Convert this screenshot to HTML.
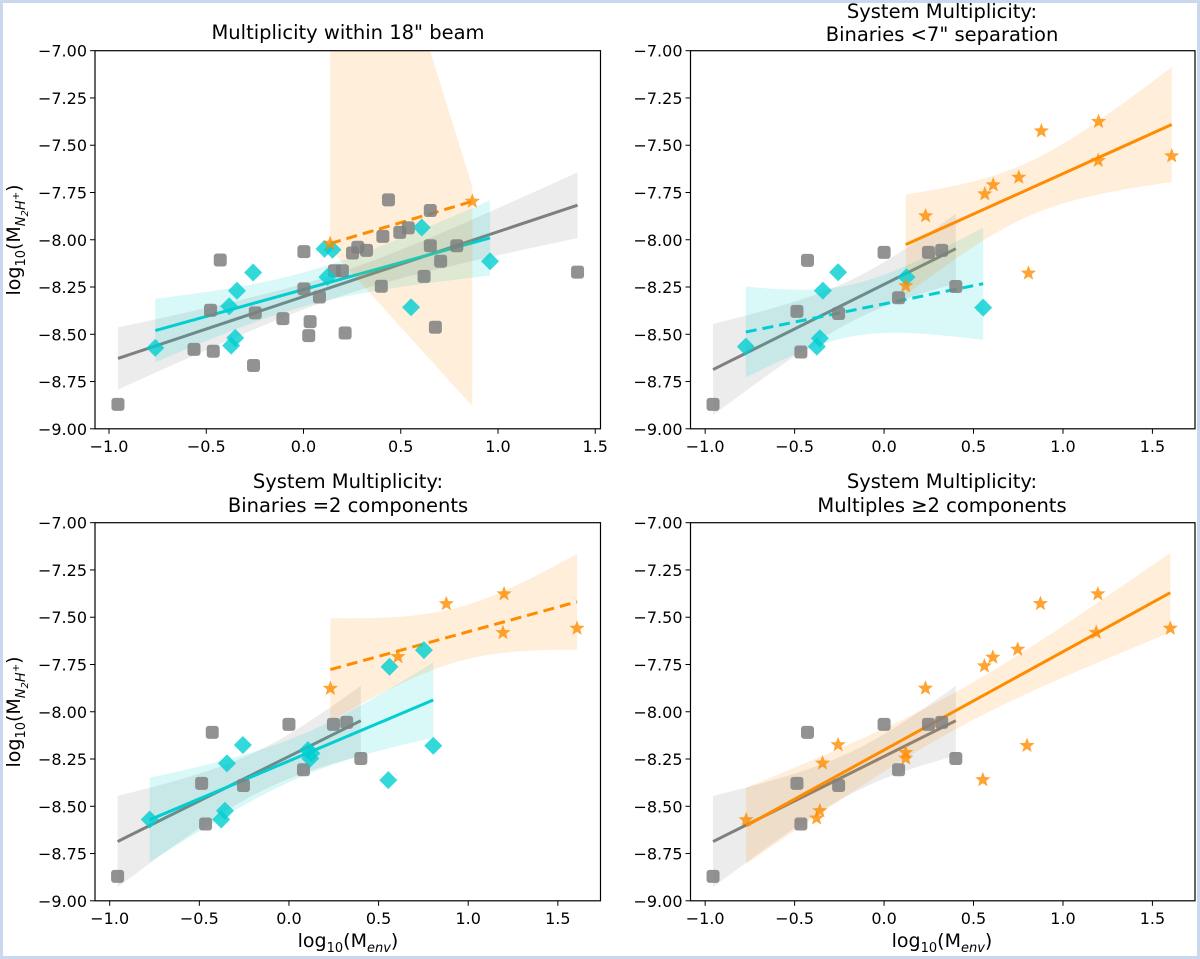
<!DOCTYPE html>
<html><head><meta charset="utf-8">
<style>
html,body{margin:0;padding:0;background:#fff;}
svg{display:block;font-family:"DejaVu Sans","Liberation Sans",sans-serif;}
</style></head>
<body>
<svg id="fig" width="1200" height="959" viewBox="0 0 1200 959" xmlns="http://www.w3.org/2000/svg">
<rect x="1.5" y="1.5" width="1197" height="956" fill="#fff" stroke="#c9d8ec" stroke-width="3"/>
</svg>
<script>
// ---------- data ----------
const aGrayX=[-0.954,-0.563,-0.464,-0.428,-0.478,-0.257,-0.248,-0.106,0.002,0.002,0.027,0.034,0.082,0.159,0.2,0.214,0.252,0.279,0.324,0.4,0.408,0.437,0.495,0.539,0.62,0.652,0.652,0.678,0.705,0.788,1.409];
const aGrayY=[-8.871,-8.58,-8.59,-8.107,-8.373,-8.665,-8.387,-8.417,-8.063,-8.26,-8.507,-8.433,-8.303,-8.164,-8.164,-8.493,-8.07,-8.04,-8.056,-8.246,-7.982,-7.789,-7.961,-7.937,-8.194,-7.845,-8.032,-8.463,-8.114,-8.032,-8.171];
const aCyanX=[-0.762,-0.372,-0.351,-0.382,-0.342,-0.259,0.108,0.149,0.123,0.553,0.608,0.959];
const aCyanY=[-8.572,-8.56,-8.519,-8.352,-8.27,-8.173,-8.048,-8.053,-8.197,-8.357,-7.935,-8.114];
const aOrangeX=[0.137,0.868];
const aOrangeY=[-8.02,-7.797];
const aOrangeBandLo=[-8.05,-8.88];
const aOrangeBandHi=[-5.3,-7.72];
const grayX=[-0.956,-0.465,-0.487,-0.428,-0.254,0.0,0.081,0.248,0.322,0.401];
const grayY=[-8.871,-8.594,-8.379,-8.109,-8.39,-8.067,-8.307,-8.067,-8.056,-8.247];
const bCyanX=[-0.773,-0.376,-0.359,-0.342,-0.257,0.125,0.554];
const bCyanY=[-8.565,-8.565,-8.521,-8.269,-8.172,-8.198,-8.359];
const bStarX=[0.121,0.232,0.563,0.61,0.753,0.879,0.807,1.199,1.197,1.608];
const bStarY=[-8.244,-7.874,-7.758,-7.71,-7.67,-7.425,-8.177,-7.375,-7.581,-7.557];
const cCyanX=[-0.777,-0.378,-0.357,-0.346,-0.257,0.125,0.119,0.106,0.554,0.561,0.753,0.805];
const cCyanY=[-8.57,-8.57,-8.524,-8.273,-8.176,-8.22,-8.247,-8.203,-8.362,-7.762,-7.674,-8.18];
const cStarX=[0.231,0.608,0.878,1.2,1.194,1.607];
const cStarY=[-7.877,-7.709,-7.429,-7.377,-7.582,-7.559];
const dStarX=[-0.771,-0.377,-0.359,-0.344,-0.257,0.121,0.121,0.231,0.552,0.561,0.608,0.747,0.799,0.874,1.195,1.186,1.6];
const dStarY=[-8.572,-8.563,-8.524,-8.272,-8.175,-8.216,-8.246,-7.876,-8.36,-7.758,-7.712,-7.67,-8.179,-7.428,-7.377,-7.581,-7.559];
const xTicks=[-1.0,-0.5,0.0,0.5,1.0,1.5];
const xTickLabels=["\u22121.0","\u22120.5","0.0","0.5","1.0","1.5"];
const yTicks=[-7.0,-7.25,-7.5,-7.75,-8.0,-8.25,-8.5,-8.75,-9.0];
const yTickLabels=["\u22127.00","\u22127.25","\u22127.50","\u22127.75","\u22128.00","\u22128.25","\u22128.50","\u22128.75","\u22129.00"];

// ---------- drawing ----------
const NS="http://www.w3.org/2000/svg";
const svg=document.getElementById('fig');
const GRAY="#7f7f7f", CYAN="#00ced1", ORANGE="#ff8c00";
const TICKFS=16, TITLEFS=19.5, LABELFS=19;
function mk(tag,attrs,parent){const e=document.createElementNS(NS,tag);for(const k in attrs)e.setAttribute(k,attrs[k]);(parent||svg).appendChild(e);return e;}

function makeAxes(px0,px1,py0,py1,xmin,xmax,name){
  const g=mk('g',{});
  
  
  const clipId='clip-'+name;
  const cp=mk('clipPath',{id:clipId},g);mk('rect',{x:px0,y:py0,width:px1-px0,height:py1-py0},cp);
  const ax={g,px0,px1,py0,py1,
    sx:v=>px0+(v-xmin)/(xmax-xmin)*(px1-px0),
    sy:v=>py0+(-7-v)/2*(py1-py0)};
  ax.plot=mk('g',{'clip-path':'url(#'+clipId+')'},g);
  return ax;
}
function finishAxes(ax){
  const g=ax.g;
  const fr=mk('rect',{x:ax.px0,y:ax.py0,width:ax.px1-ax.px0,height:ax.py1-ax.py0,fill:'none',stroke:'#000','stroke-width':1.2},g);
  
  
  xTicks.forEach((t,i)=>{const x=ax.sx(t);
    mk('line',{x1:x,x2:x,y1:ax.py1,y2:ax.py1+5,stroke:'#000','stroke-width':1},g);
    const tx=mk('text',{x:x,y:ax.py1+23,'text-anchor':'middle','font-size':TICKFS,fill:'#000'},g);tx.textContent=xTickLabels[i];
    
    });
  yTicks.forEach((t,i)=>{const y=ax.sy(t);
    mk('line',{x1:ax.px0-5,x2:ax.px0,y1:y,y2:y,stroke:'#000','stroke-width':1},g);
    const tx=mk('text',{x:ax.px0-8,y:y+6,'text-anchor':'end','font-size':TICKFS,fill:'#000'},g);tx.textContent=yTickLabels[i];
    
    });
}
const tTab={1:12.7,2:4.3,3:3.18,4:2.78,5:2.57,6:2.45,7:2.36,8:2.31,9:2.26,10:2.23,12:2.18,15:2.13,20:2.09,30:2.04};
function tval(df){let best=2.0;for(const k in tTab){if(+k<=df)best=tTab[k];}return df>30?2.0:best;}
function fit(xs,ys){const n=xs.length;const mx=xs.reduce((a,b)=>a+b)/n,my=ys.reduce((a,b)=>a+b)/n;
  let sxx=0,sxy=0;for(let i=0;i<n;i++){sxx+=(xs[i]-mx)**2;sxy+=(xs[i]-mx)*(ys[i]-my);}
  const b=sxy/sxx,a=my-b*mx;let sse=0;for(let i=0;i<n;i++)sse+=(ys[i]-a-b*xs[i])**2;
  const s=n>2?Math.sqrt(sse/(n-2)):0;return {a,b,mx,sxx,s,n,xmin:Math.min(...xs),xmax:Math.max(...xs)};}
function drawFit(ax,xs,ys,color,dashed,name,bandLo,bandHi){
  const f=fit(xs,ys);
  let pts=[];
  if(bandLo){pts=[[f.xmin,bandHi[0]],[f.xmax,bandHi[1]],[f.xmax,bandLo[1]],[f.xmin,bandLo[0]]];}
  else{const t=tval(f.n-2)*0.85;const up=[],lo=[];
    for(let k=0;k<=40;k++){const x=f.xmin+(f.xmax-f.xmin)*k/40;const yh=f.a+f.b*x;
      const se=f.s*Math.sqrt(1/f.n+(x-f.mx)**2/f.sxx);up.push([x,yh+t*se]);lo.push([x,yh-t*se]);}
    pts=up.concat(lo.reverse());}
  const band=mk('polygon',{points:pts.map(p=>ax.sx(p[0])+','+ax.sy(p[1])).join(' '),fill:color,'fill-opacity':0.15,stroke:'none'},ax.plot);
  
  
  const ln=mk('line',{x1:ax.sx(f.xmin),y1:ax.sy(f.a+f.b*f.xmin),x2:ax.sx(f.xmax),y2:ax.sy(f.a+f.b*f.xmax),stroke:color,'stroke-width':3},ax.plot);
  if(dashed)ln.setAttribute('stroke-dasharray','11,6');
  
  
}
function drawPoints(ax,xs,ys,kind,name){
  for(let i=0;i<xs.length;i++){const x=ax.sx(xs[i]),y=ax.sy(ys[i]);let e;
    if(kind==='sq')e=mk('rect',{x:x-6.5,y:y-6.5,width:13,height:13,rx:3,fill:GRAY,'fill-opacity':0.85},ax.plot);
    else if(kind==='dia')e=mk('polygon',{points:`${x},${y-9} ${x+9},${y} ${x},${y+9} ${x-9},${y}`,fill:CYAN,'fill-opacity':0.8},ax.plot);
    else{let p=[];for(let k=0;k<10;k++){const r=k%2?3.4:8;const a=-Math.PI/2+k*Math.PI/5;p.push((x+r*Math.cos(a)).toFixed(2)+','+(y+r*Math.sin(a)).toFixed(2));}
      e=mk('polygon',{points:p.join(' '),fill:ORANGE,'fill-opacity':0.8},ax.plot);}
    
    }
}
function text(x,y,str,size,name,anchor){const t=mk('text',{x,y,'font-size':size,'text-anchor':anchor||'middle',fill:'#000'});t.textContent=str;
  
  return t;}
function ylabel(cx,cy){const t=mk('text',{x:0,y:0,'font-size':LABELFS,'text-anchor':'middle',transform:`translate(${cx},${cy}) rotate(-90)`,fill:'#000'});
  t.innerHTML='log<tspan font-size="13" dy="5">10</tspan><tspan dy="-5">(M</tspan><tspan font-size="13" dy="5" font-style="italic">N</tspan><tspan font-size="10" dy="3" font-style="italic">2</tspan><tspan font-size="13" dy="-3" font-style="italic">H</tspan><tspan font-size="10" dy="-6">+</tspan><tspan dy="1">)</tspan>';
  
  }
function xlabel(cx,cy){const t=mk('text',{x:cx,y:cy,'font-size':LABELFS,'text-anchor':'middle',fill:'#000'});
  t.innerHTML='log<tspan font-size="13" dy="5">10</tspan><tspan dy="-5">(M</tspan><tspan font-size="13" dy="5" font-style="italic">env</tspan><tspan dy="-5">)</tspan>';
  
  }

const A=makeAxes(95,600.5,50.7,428.8,-1.072,1.527,'panel-multiplicity-beam');
drawFit(A,aGrayX,aGrayY,GRAY,false,'single');
drawFit(A,aCyanX,aCyanY,CYAN,false,'binary');
drawFit(A,aOrangeX,aOrangeY,ORANGE,true,'multiple',aOrangeBandLo,aOrangeBandHi);
drawPoints(A,aGrayX,aGrayY,'sq','single-point');
drawPoints(A,aCyanX,aCyanY,'dia','binary-point');
drawPoints(A,aOrangeX,aOrangeY,'star','multiple-point');
finishAxes(A);
const B=makeAxes(690.5,1195,50.7,428.8,-1.082,1.738,'panel-binaries-separation');
drawFit(B,grayX,grayY,GRAY,false,'single');
drawFit(B,bCyanX,bCyanY,CYAN,true,'binary');
drawFit(B,bStarX,bStarY,ORANGE,false,'multiple');
drawPoints(B,grayX,grayY,'sq','single-point');
drawPoints(B,bCyanX,bCyanY,'dia','binary-point');
drawPoints(B,bStarX,bStarY,'star','multiple-point');
finishAxes(B);
const C=makeAxes(95,600.5,522.7,900.8,-1.082,1.738,'panel-binaries-two');
drawFit(C,grayX,grayY,GRAY,false,'single');
drawFit(C,cCyanX,cCyanY,CYAN,false,'binary');
drawFit(C,cStarX,cStarY,ORANGE,true,'multiple');
drawPoints(C,grayX,grayY,'sq','single-point');
drawPoints(C,cCyanX,cCyanY,'dia','binary-point');
drawPoints(C,cStarX,cStarY,'star','multiple-point');
finishAxes(C);
const D=makeAxes(690.5,1195,522.7,900.8,-1.082,1.738,'panel-multiples');
drawFit(D,grayX,grayY,GRAY,false,'single');
drawFit(D,dStarX,dStarY,ORANGE,false,'multiple');
drawPoints(D,grayX,grayY,'sq','single-point');
drawPoints(D,dStarX,dStarY,'star','multiple-point');
finishAxes(D);

text(348,39,'Multiplicity within 18" beam',TITLEFS,'title-panel-a');
text(942,18,'System Multiplicity:',TITLEFS,'title-panel-b-line1');
text(942,41,'Binaries <7" separation',TITLEFS,'title-panel-b-line2');
text(348,488,'System Multiplicity:',TITLEFS,'title-panel-c-line1');
text(348,512,'Binaries =2 components',TITLEFS,'title-panel-c-line2');
text(942,488,'System Multiplicity:',TITLEFS,'title-panel-d-line1');
text(942,512,'Multiples \u22652 components',TITLEFS,'title-panel-d-line2');
ylabel(20,240);
ylabel(20,712);
xlabel(348,947);
xlabel(942,947);
</script>
</body></html>
